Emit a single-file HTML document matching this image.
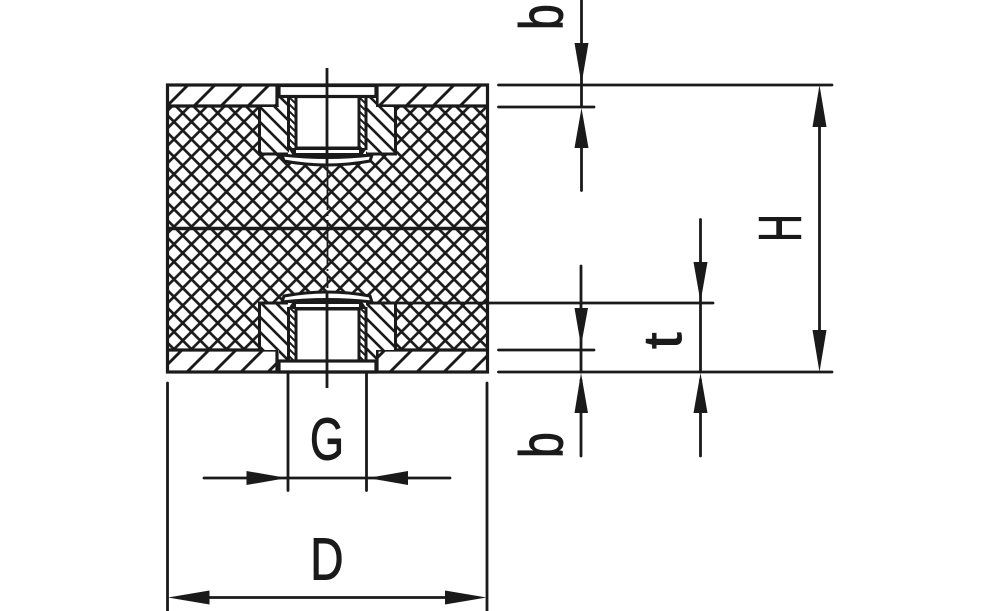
<!DOCTYPE html>
<html><head><meta charset="utf-8"><style>
html,body{margin:0;padding:0;background:#fff;width:1000px;height:611px;overflow:hidden}
svg{display:block}
text{font-family:"Liberation Sans",sans-serif;fill:#1a1a1a;stroke:#1a1a1a;stroke-width:1}
</style></head><body>
<svg width="1000" height="611" viewBox="0 0 1000 611" xmlns="http://www.w3.org/2000/svg">
<defs>
<pattern id="x" width="17.5" height="17.5" patternUnits="userSpaceOnUse" x="165.25" y="113">
<path d="M-2 19.500L19.500 -2M-2 2L2 -2M15.500 19.500L19.500 15.500M-2 -2L19.500 19.500M-2 15.500L2 19.500M15.500 -2L19.500 2" stroke="#1a1a1a" stroke-width="2.700" fill="none"/>
</pattern>
<pattern id="p1" width="27" height="27" patternUnits="userSpaceOnUse" x="188" y="85">
<path d="M-3 3L3 -3M-3 30L30 -3M24 30L30 24" stroke="#1a1a1a" stroke-width="2.9" fill="none"/>
</pattern>
<pattern id="p2" width="27" height="27" patternUnits="userSpaceOnUse" x="184" y="85">
<path d="M-3 3L3 -3M-3 30L30 -3M24 30L30 24" stroke="#1a1a1a" stroke-width="2.9" fill="none"/>
</pattern>
<pattern id="p3" width="27" height="27" patternUnits="userSpaceOnUse" x="204" y="85">
<path d="M-3 3L3 -3M-3 30L30 -3M24 30L30 24" stroke="#1a1a1a" stroke-width="2.9" fill="none"/>
</pattern>
<pattern id="p4" width="27" height="27" patternUnits="userSpaceOnUse" x="191" y="85">
<path d="M-3 3L3 -3M-3 30L30 -3M24 30L30 24" stroke="#1a1a1a" stroke-width="2.9" fill="none"/>
</pattern>
<pattern id="b" width="15" height="15" patternUnits="userSpaceOnUse" x="260" y="107">
<path d="M-3 -3L18 18M-3 12L3 18M12 -3L18 3" stroke="#1a1a1a" stroke-width="2.6" fill="none"/>
</pattern>
<pattern id="s" width="7" height="7" patternUnits="userSpaceOnUse" x="288" y="96">
<path d="M-1 -1L8 8M-1 6L1 8M6 -1L8 1" stroke="#1a1a1a" stroke-width="2" fill="none"/>
</pattern>
</defs>

<!-- body -->
<rect x="167" y="106" width="320" height="244" fill="url(#x)"/>
<line x1="167" y1="228.5" x2="487" y2="228.5" stroke="#1a1a1a" stroke-width="3.4"/>

<!-- plates -->
<rect x="168" y="86" width="109" height="20" fill="#fff"/>
<rect x="168" y="86" width="109" height="20" fill="url(#p1)"/>
<rect x="377" y="86" width="110" height="20" fill="#fff"/>
<rect x="377" y="86" width="110" height="20" fill="url(#p2)"/>
<rect x="168" y="351" width="109" height="20" fill="#fff"/>
<rect x="168" y="351" width="109" height="20" fill="url(#p3)"/>
<rect x="377" y="351" width="110" height="20" fill="#fff"/>
<rect x="377" y="351" width="110" height="20" fill="url(#p4)"/>
<path d="M167 106H277V85M377 85V106H487M167 350H277V372M377 372V350H487" fill="none" stroke="#1a1a1a" stroke-width="3.200"/>

<!-- top insert -->
<g stroke="#1a1a1a" fill="none">
<rect x="260" y="107" width="36" height="47" fill="#fff" stroke="none"/>
<rect x="358" y="107" width="37" height="47" fill="#fff" stroke="none"/>
<rect x="260" y="107" width="29" height="47" fill="url(#b)" stroke="none"/>
<rect x="366" y="107" width="29" height="47" fill="url(#b)" stroke="none"/>
<rect x="279" y="96" width="10" height="12" fill="#fff" stroke="none"/>
<rect x="366" y="96" width="10" height="12" fill="#fff" stroke="none"/>
<rect x="279" y="96" width="10" height="12" fill="url(#b)" stroke="none"/>
<rect x="366" y="96" width="10" height="12" fill="url(#b)" stroke="none"/>
<rect x="289" y="96" width="7" height="52" fill="#fff" stroke="none"/>
<rect x="359" y="96" width="7" height="52" fill="#fff" stroke="none"/>
<rect x="289" y="96" width="7" height="52" fill="url(#s)" stroke="none"/>
<rect x="359" y="96" width="7" height="52" fill="url(#s)" stroke="none"/>
<rect x="296" y="96" width="63" height="52" fill="#fff" stroke-width="3"/>
<path d="M288.500 96V150M366 96V150" stroke-width="3"/>
<path d="M259.500 106V154H288M395.500 106V154H367" stroke-width="3"/>
<rect x="279" y="85.500" width="97" height="11" fill="#fff" stroke-width="3.200"/>
<path d="M288 148H367L361 157Q327 160 294 157Z" fill="#1a1a1a" stroke="none"/>
<rect x="296" y="150" width="63" height="3" fill="#fff" stroke="none"/>
<path d="M282 155Q327 160 372 155L370 161Q327 169 284 161Z" fill="#fff" stroke-width="3"/>
</g>

<!-- bottom insert -->
<g stroke="#1a1a1a" fill="none">
<rect x="260" y="303" width="36" height="47" fill="#fff" stroke="none"/>
<rect x="358" y="303" width="37" height="47" fill="#fff" stroke="none"/>
<rect x="260" y="303" width="29" height="47" fill="url(#b)" stroke="none"/>
<rect x="366" y="303" width="29" height="47" fill="url(#b)" stroke="none"/>
<rect x="279" y="349" width="10" height="12" fill="#fff" stroke="none"/>
<rect x="366" y="349" width="10" height="12" fill="#fff" stroke="none"/>
<rect x="279" y="349" width="10" height="12" fill="url(#b)" stroke="none"/>
<rect x="366" y="349" width="10" height="12" fill="url(#b)" stroke="none"/>
<rect x="289" y="309" width="7" height="52" fill="#fff" stroke="none"/>
<rect x="359" y="309" width="7" height="52" fill="#fff" stroke="none"/>
<rect x="289" y="309" width="7" height="52" fill="url(#s)" stroke="none"/>
<rect x="359" y="309" width="7" height="52" fill="url(#s)" stroke="none"/>
<rect x="296" y="309" width="63" height="52" fill="#fff" stroke-width="3"/>
<path d="M288.500 307V361M366 307V361" stroke-width="3"/>
<path d="M259.500 350V303H288M395.500 350V303H367" stroke-width="3"/>
<rect x="279" y="361" width="97" height="11" fill="#fff" stroke-width="3.200"/>
<path d="M288 309H367L361 300Q327 297 294 300Z" fill="#1a1a1a" stroke="none"/>
<rect x="296" y="304" width="63" height="3" fill="#fff" stroke="none"/>
<path d="M282 302Q327 297 372 302L370 296Q327 288 284 296Z" fill="#fff" stroke-width="3"/>
</g>

<!-- outer frame -->
<rect x="167.500" y="85" width="320" height="287" fill="none" stroke="#1a1a1a" stroke-width="3.200"/>

<!-- centre line -->
<path d="M327 68V165M327 292V388" stroke="#1a1a1a" stroke-width="2.800" fill="none"/>
<path d="M327.500 165V288" stroke="#1a1a1a" stroke-width="1.800" fill="none" stroke-dasharray="45 4 2 4"/>

<!-- dimension lines -->
<g stroke="#1a1a1a" fill="none" stroke-width="2.800" stroke-linecap="round">
<path d="M498.500 85H832M498.500 107H594M498.500 350H594M498.500 372H832M376 303H713"/>
<path d="M581.500 0V106M581.500 120V190.500M581 266V372M581 380V456M700.500 219.500V372M700.500 380V456M819.500 100V360"/>
<path d="M288 372V490.500M366.500 372V490.500M204 478H450"/>
<path d="M167.500 383V611M487 383V611M180 597.500H475"/>
</g>

<!-- arrowheads -->
<g fill="#1a1a1a">
<path d="M581.500 84L574.500 43H588.500Z"/>
<path d="M581.500 108L574.500 148H588.500Z"/>
<path d="M581 346L574.500 308H588Z"/>
<path d="M581 373L574.500 413H588Z"/>
<path d="M700.500 302L693.500 262H707.500Z"/>
<path d="M700.500 373L693.500 413H707.500Z"/>
<path d="M819.500 85L812.500 127H826.500Z"/>
<path d="M819.500 372L812.500 330H826.500Z"/>
<path d="M287 478L246.500 471V485Z"/>
<path d="M368 478L408 471V485Z"/>
<path d="M168 597.500L209.500 590.500V604.500Z"/>
<path d="M486.500 597.500L445 590.500V604.500Z"/>
</g>

<!-- labels -->
<text transform="translate(344 459.500) scale(.74 1)" font-size="59" text-anchor="end">G</text>
<text transform="translate(343.500 579.500) scale(.78 1)" font-size="59" text-anchor="end">D</text>
<text transform="translate(801 228) rotate(-90) scale(.64 1)" font-size="60" text-anchor="middle">H</text>
<text transform="translate(562.500 30) rotate(-90) scale(.76 1)" font-size="61">b</text>
<text transform="translate(562.500 458) rotate(-90) scale(.76 1)" font-size="61">b</text>
<text transform="translate(681 349) rotate(-90) scale(1.1 1)" font-size="54">t</text>
</svg>
</body></html>
